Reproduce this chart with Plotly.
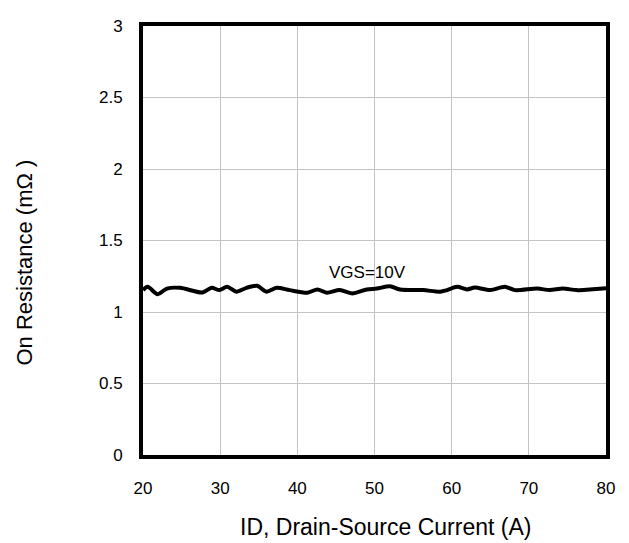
import plotly.graph_objects as go

# Data
current_a = [20.0, 20.6, 21.9, 23.1, 24.8, 27.7, 28.9, 29.9, 30.9, 32.1, 33.4, 34.8, 36.0, 37.3,
             39.0, 41.3, 42.6, 43.8, 45.5, 47.1, 49.0, 50.3, 52.0, 53.3, 56.3, 58.5, 59.4, 60.7,
             62.0, 63.0, 65.0, 66.9, 68.2, 71.1, 72.7, 74.4, 76.2, 77.9, 80.0]
rds_on_mohm = [1.153, 1.176, 1.125, 1.164, 1.169, 1.137, 1.169, 1.153, 1.176, 1.142, 1.169, 1.183,
               1.142, 1.169, 1.153, 1.135, 1.158, 1.135, 1.153, 1.130, 1.158, 1.164, 1.180, 1.158,
               1.153, 1.142, 1.153, 1.176, 1.158, 1.171, 1.153, 1.176, 1.153, 1.164, 1.153, 1.164,
               1.153, 1.158, 1.166]
x_ticks = [20, 30, 40, 50, 60, 70, 80]
y_ticks = [0, 0.5, 1, 1.5, 2, 2.5, 3]
y_tick_labels = ["0", "0.5", "1", "1.5", "2", "2.5", "3"]
curve_label = "VGS=10V"
curve_label_pos = (49.1, 1.274)
x_title = "ID, Drain-Source Current (A)"
y_title = "On Resistance (m\u03a9 )"

FONT = "Liberation Sans, Arial, sans-serif"

fig = go.Figure()
fig.add_trace(go.Scatter(
    x=current_a, y=rds_on_mohm, mode="lines",
    line=dict(color="black", width=4, shape="spline", smoothing=0.8),
    showlegend=False, hoverinfo="skip",
))

# page body has an 8px margin; size/margins compensate so the plot lands where the reference has it
fig.update_layout(
    width=621, height=535,
    margin=dict(l=135, r=23, t=9, b=88),
    paper_bgcolor="white", plot_bgcolor="white",
    font=dict(family=FONT, color="black", size=17),
    xaxis=dict(
        range=[20, 80], tickvals=x_ticks, ticktext=[str(v) for v in x_ticks],
        showgrid=True, gridcolor="#c3c3c3", gridwidth=1,
        showline=True, linecolor="black", linewidth=4, mirror=True,
        ticks="", ticklabelstandoff=15, zeroline=False,
        tickfont=dict(size=17),
    ),
    yaxis=dict(
        range=[0, 3], tickvals=y_ticks, ticktext=y_tick_labels,
        showgrid=True, gridcolor="#c3c3c3", gridwidth=1,
        showline=True, linecolor="black", linewidth=4, mirror=True,
        ticks="", ticklabelstandoff=13, zeroline=False,
        tickfont=dict(size=17),
    ),
    annotations=[
        dict(x=curve_label_pos[0], y=curve_label_pos[1], xref="x", yref="y",
             text=curve_label, showarrow=False, font=dict(size=17),
             xanchor="center", yanchor="middle"),
        dict(x=0.5227, y=-0.1667, xref="paper", yref="paper", text=x_title,
             showarrow=False, font=dict(size=23), xanchor="center", yanchor="middle"),
        dict(x=-0.2549, y=0.4486, xref="paper", yref="paper", text=y_title,
             showarrow=False, font=dict(size=22), textangle=-90,
             xanchor="center", yanchor="middle"),
    ],
)

fig.write_html("out.html")
